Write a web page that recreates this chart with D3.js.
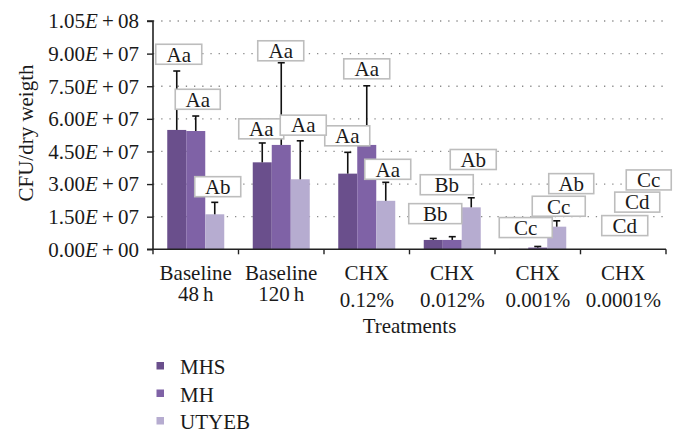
<!DOCTYPE html>
<html><head><meta charset="utf-8">
<script src="https://cdn.jsdelivr.net/npm/d3@7"></script>
<style>
html,body{margin:0;padding:0;background:#fff;}
svg text{font-family:"Liberation Serif","DejaVu Serif","Noto Serif",serif;fill:#1a1a1a;}
</style></head>
<body><svg id="c" width="686" height="442"></svg>
<script>
// ---- data ----
const categories = ["Baseline 48 h","Baseline 120 h","CHX 0.12%","CHX 0.012%","CHX 0.001%","CHX 0.0001%"];
const catLine1 = ["Baseline","Baseline","CHX","CHX","CHX","CHX"];
const catLine2 = ["48\u2009h","120\u2009h","0.12%","0.012%","0.001%","0.0001%"];
const series = ["MHS","MH","UTYEB"];
const MHS   = [5.49e7, 4.00e7, 3.48e7, 0.43e7, 0.02e7, 0];
const MH    = [5.44e7, 4.80e7, 4.80e7, 0.43e7, 0.08e7, 0];
const UTYEB = [1.61e7, 3.22e7, 2.23e7, 1.93e7, 1.04e7, 0];
const MHS_err   = [8.20e7, 4.89e7, 4.46e7, 0.50e7, null, null];
const MH_err    = [6.13e7, 8.58e7, 7.52e7, 0.58e7, 0.13e7, null];
const UTYEB_err = [2.16e7, 4.99e7, 3.08e7, 2.37e7, 1.31e7, null];
const MHS_lbl   = ["Aa","Aa","Aa","Bb","Cc","Cd"];
const MH_lbl    = ["Aa","Aa","Aa","Bb","Cc","Cd"];
const UTYEB_lbl = ["Ab","Aa","Aa","Ab","Ab","Cc"];
const yTicks = [0, 1.5e7, 3.0e7, 4.5e7, 6.0e7, 7.5e7, 9.0e7, 1.05e8];

// ---- layout of annotation boxes (center in value units, x offset px, width px) ----
const MHS_lblPos   = [[8.97,2,46],[5.54,-1,45],[5.22,-0.5,45],[1.64,2,53],[1.00,7,53],[1.09,20.5,46]];
const MH_lblPos    = [[6.90,2,45],[9.13,-0.5,46],[8.30,0,46],[2.97,-5.5,53],[1.98,21,53],[2.17,14,45]];
const UTYEB_lblPos = [[2.88,3,46],[5.71,3,46],[3.68,2,46],[4.13,2,46],[3.02,14.5,45],[3.19,6.5,45]];

const values = [MHS, MH, UTYEB];
const errs = [MHS_err, MH_err, UTYEB_err];
const lbls = [MHS_lbl, MH_lbl, UTYEB_lbl];
const lblPos = [MHS_lblPos, MH_lblPos, UTYEB_lblPos];
const colors = ["#6a4f8c", "#7f62a6", "#b6acd0"];

const svg = d3.select("#c");
const L = 153, R = 666, T = 21, B = 249.3;
const x = d3.scaleBand().domain(categories).range([L, R]).padding(0);
const xs = d3.scaleBand().domain(series).range([0, x.bandwidth()]).paddingInner(0).paddingOuter(0.75);
const y = d3.scaleLinear().domain([0, 1.05e8]).range([B, T]);

// gridlines
svg.append("g").selectAll("line").data(yTicks.filter(d => d > 0)).join("line")
  .attr("x1", L).attr("x2", R).attr("y1", d => y(d)).attr("y2", d => y(d))
  .attr("stroke", "#8a8a8a").attr("stroke-width", 1.3).attr("stroke-dasharray", "1.3,6.9");

// bars
const g = svg.append("g");
series.forEach((s, si) => {
  g.append("g").selectAll("rect").data(categories).join("rect")
    .attr("x", (c) => x(c) + xs(s))
    .attr("width", xs.bandwidth())
    .attr("y", (c, i) => y(values[si][i]))
    .attr("height", (c, i) => B - y(values[si][i]))
    .attr("fill", colors[si]);
});
// error bars
series.forEach((s, si) => {
  categories.forEach((c, i) => {
    const e = errs[si][i];
    if (e == null) return;
    const cx = x(c) + xs(s) + xs.bandwidth() / 2;
    g.append("line").attr("x1", cx).attr("x2", cx).attr("y1", y(values[si][i])).attr("y2", y(e))
      .attr("stroke", "#111").attr("stroke-width", 1.6);
    g.append("line").attr("x1", cx - 3.5).attr("x2", cx + 3.5).attr("y1", y(e)).attr("y2", y(e))
      .attr("stroke", "#111").attr("stroke-width", 1.6);
  });
});

// axes
const yAxis = svg.append("g").attr("transform", `translate(${L},0)`)
  .call(d3.axisLeft(y).tickValues(yTicks).tickSize(6).tickFormat(""));
yAxis.select(".domain").attr("stroke", "#222").attr("stroke-width", 1.6).attr("d", `M-6,${B}H0V${T}H-6`);
yAxis.selectAll(".tick line").attr("stroke", "#222").attr("stroke-width", 1.4);
const xAxis = svg.append("g").attr("transform", `translate(0,${B})`)
  .call(d3.axisBottom(x).tickSize(0).tickFormat(""));
xAxis.select(".domain").attr("stroke", "#222").attr("stroke-width", 1.6).attr("d", `M${L},0H${R}`);
xAxis.selectAll(".tick").remove();
const bounds = categories.map(c => x(c)).concat([R]);
svg.append("g").selectAll("line").data(bounds).join("line")
  .attr("x1", d => d).attr("x2", d => d).attr("y1", B).attr("y2", B + 5)
  .attr("stroke", "#222").attr("stroke-width", 1.4);

// y tick labels
const fmtMant = d3.format(".2f");
yTicks.forEach(v => {
  const exp = v === 0 ? 0 : Math.floor(Math.log10(v));
  const mant = v === 0 ? 0 : v / Math.pow(10, exp);
  const t = svg.append("text").attr("x", 139).attr("y", y(v)).attr("dy", "0.35em")
    .attr("text-anchor", "end").attr("font-size", 21);
  t.append("tspan").text(fmtMant(mant));
  t.append("tspan").attr("font-style", "italic").text("E");
  t.append("tspan").attr("xml:space", "preserve").text("\u2009+\u2009" + String(exp).padStart(2, "0"));
});

// category labels
categories.forEach((c, i) => {
  const cx = x(c) + x.bandwidth() / 2;
  svg.append("text").attr("x", cx).attr("y", 279.5).attr("text-anchor", "middle").attr("font-size", 21).text(catLine1[i]);
  svg.append("text").attr("x", cx).attr("y", catLine1[i] === "Baseline" ? 300.7 : 306.5)
    .attr("text-anchor", "middle").attr("font-size", 21).text(catLine2[i]);
});
svg.append("text").attr("x", (L + R) / 2).attr("y", 333).attr("text-anchor", "middle").attr("font-size", 21).text("Treatments");
svg.append("text").attr("transform", "translate(33,133) rotate(-90)").attr("text-anchor", "middle")
  .attr("font-size", 21).text("CFU/dry weigth");

// annotation boxes
series.forEach((s, si) => {
  categories.forEach((c, i) => {
    const [v, dx, w] = lblPos[si][i];
    const cx = x(c) + xs(s) + xs.bandwidth() / 2 + dx;
    const cy = y(v * 1e7);
    svg.append("rect").attr("x", cx - w / 2).attr("y", cy - 10).attr("width", w).attr("height", 20)
      .attr("fill", "#fff").attr("stroke", "#bdbdbd").attr("stroke-width", 1.6);
    svg.append("text").attr("x", cx).attr("y", cy).attr("dy", "0.35em").attr("text-anchor", "middle")
      .attr("font-size", 21).text(lbls[si][i]);
  });
});

// legend
series.forEach((s, si) => {
  const ly = 366 + si * 27.5;
  svg.append("rect").attr("x", 156.5).attr("y", ly - 4).attr("width", 7.5).attr("height", 7.5).attr("fill", colors[si]);
  svg.append("text").attr("x", 180).attr("y", ly + 8).attr("font-size", 21).text(s);
});
</script></body></html>
